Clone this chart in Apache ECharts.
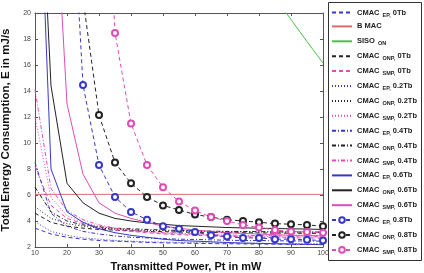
<!DOCTYPE html>
<html>
<head>
<meta charset="utf-8">
<script src="https://cdn.jsdelivr.net/npm/echarts@6/dist/echarts.min.js"></script>
<style>
html, body { margin: 0; padding: 0; background: #fff; }
#main { width: 424px; height: 273px; }
</style>
</head>
<body>
<div id="main"></div>
<script>
var chartDom = document.getElementById('main');
var myChart = echarts.init(chartDom);

// transmitted power, mW
var xData = [10, 15, 20, 25, 30, 35, 40, 45, 50, 55, 60, 65, 70, 75, 80, 85, 90, 95, 100];
var xTicks = [10, 20, 30, 40, 50, 60, 70, 80, 90, 100];
var yTicks = [2, 4, 6, 8, 10, 12, 14, 16, 18, 20];

// energy consumption, mJ/s (values above 20 run off the top)
var ep0    = [3.45, 3.0, 2.75, 2.6, 2.5, 2.45, 2.4, 2.35, 2.32, 2.3, 2.28, 2.26, 2.25, 2.24, 2.23, 2.22, 2.21, 2.2, 2.2];
var bmac   = [6.05, 6.05, 6.05, 6.05, 6.05, 6.05, 6.05, 6.05, 6.05, 6.05, 6.05, 6.05, 6.05, 6.05, 6.05, 6.05, 6.05, 6.05, 6.05];
var siso   = [null, null, null, null, null, null, null, null, null, null, null, null, null, null, null, 21.2, 19.5, 17.8, 16.15];
var onp0   = [4.6, 3.9, 3.6, 3.45, 3.35, 3.3, 3.25, 3.2, 3.18, 3.15, 3.13, 3.12, 3.1, 3.1, 3.08, 3.07, 3.06, 3.05, 3.05];
var smp0   = [8.2, 5.2, 4.2, 3.8, 3.5, 3.3, 3.2, 3.1, 3.0, 2.95, 2.9, 2.85, 2.8, 2.8, 2.75, 2.72, 2.7, 2.7, 2.68];
var ep02   = [3.95, 3.2, 2.9, 2.7, 2.6, 2.5, 2.45, 2.4, 2.38, 2.35, 2.33, 2.32, 2.3, 2.3, 2.28, 2.27, 2.26, 2.25, 2.25];
var onp02  = [5.1, 4.2, 3.8, 3.6, 3.45, 3.38, 3.32, 3.28, 3.25, 3.22, 3.2, 3.2, 3.18, 3.17, 3.16, 3.15, 3.15, 3.14, 3.14];
var smp02  = [12.0, 5.8, 4.4, 3.9, 3.6, 3.4, 3.25, 3.15, 3.05, 3.0, 2.95, 2.9, 2.88, 2.85, 2.82, 2.8, 2.78, 2.77, 2.75];
var ep04   = [8.5, 4.6, 3.6, 3.2, 3.0, 2.85, 2.75, 2.7, 2.65, 2.6, 2.58, 2.55, 2.52, 2.5, 2.5, 2.48, 2.47, 2.46, 2.45];
var onp04  = [6.6, 4.7, 4.0, 3.7, 3.55, 3.45, 3.4, 3.35, 3.3, 3.28, 3.25, 3.22, 3.2, 3.2, 3.18, 3.17, 3.16, 3.15, 3.15];
var smp04  = [14.1, 6.5, 4.8, 4.1, 3.7, 3.45, 3.3, 3.2, 3.1, 3.05, 3.0, 2.95, 2.92, 2.9, 2.88, 2.86, 2.85, 2.83, 2.82];
var ep06   = [40, 8.0, 4.7, 3.9, 3.4, 3.1, 2.9, 2.75, 2.6, 2.5, 2.45, 2.4, 2.35, 2.3, 2.28, 2.25, 2.22, 2.2, 2.18];
var onp06  = [40, 14.4, 6.9, 5.4, 4.6, 4.2, 4.0, 3.85, 3.75, 3.65, 3.6, 3.55, 3.5, 3.47, 3.45, 3.42, 3.4, 3.38, 3.35];
var smp06  = [90, 34.9, 13.0, 7.6, 5.4, 4.6, 4.2, 3.9, 3.6, 3.45, 3.3, 3.2, 3.1, 3.05, 3.0, 2.95, 2.9, 2.9, 2.85];
var ep08   = [200, 80, 36.6, 14.46, 8.3, 5.85, 4.7, 4.1, 3.6, 3.4, 3.15, 2.9, 2.8, 2.7, 2.7, 2.6, 2.6, 2.55, 2.5];
var onp08  = [250, 100, 45, 21.07, 12.15, 8.5, 6.9, 5.85, 5.2, 4.85, 4.5, 4.3, 4.1, 4.0, 3.9, 3.8, 3.75, 3.7, 3.6];
var smp08  = [800, 400, 200, 100, 44, 18.46, 11.5, 8.3, 6.6, 5.5, 4.8, 4.3, 4.0, 3.7, 3.5, 3.3, 3.2, 3.15, 3.1];

var BLUE = '#3838c8';
var BLACK = '#222222';
var PINK = '#e04cb4';
var DASH = [4, 3];
var DOT = [1, 2];
var DASHDOT = [4, 2, 1, 2];

function pairs(arr) {
    return xData.map(function (x, i) { return [x, arr[i]]; });
}

function curve(name, arr, color, type, marker) {
    return {
        name: name,
        type: 'line',
        data: pairs(arr),
        clip: true,
        silent: true,
        animation: false,
        symbol: marker ? 'emptyCircle' : 'none',
        symbolSize: 6,
        showSymbol: !!marker,
        lineStyle: { color: color, width: 1, type: type },
        itemStyle: { color: color, borderColor: color, borderWidth: 1 }
    };
}

var series = [
    curve('CMAC_EP, 0Tb', ep0, BLUE, DASH),
    curve('B MAC', bmac, '#e06a6a', 'solid'),
    curve('SISO_ON', siso, '#4cc04c', 'solid'),
    curve('CMAC_ONP, 0Tb', onp0, BLACK, DASH),
    curve('CMAC_SMP, 0Tb', smp0, PINK, DASH),
    curve('CMAC_EP, 0.2Tb', ep02, BLUE, DOT),
    curve('CMAC_ONP, 0.2Tb', onp02, BLACK, DOT),
    curve('CMAC_SMP, 0.2Tb', smp02, PINK, DOT),
    curve('CMAC_EP, 0.4Tb', ep04, BLUE, DASHDOT),
    curve('CMAC_ONP, 0.4Tb', onp04, BLACK, DASHDOT),
    curve('CMAC_SMP, 0.4Tb', smp04, PINK, DASHDOT),
    curve('CMAC_EP, 0.6Tb', ep06, BLUE, 'solid'),
    curve('CMAC_ONP, 0.6Tb', onp06, BLACK, 'solid'),
    curve('CMAC_SMP, 0.6Tb', smp06, PINK, 'solid'),
    curve('CMAC_EP, 0.8Tb', ep08, BLUE, DASH, true),
    curve('CMAC_ONP, 0.8Tb', onp08, BLACK, DASH, true),
    curve('CMAC_SMP, 0.8Tb', smp08, PINK, DASH, true)
];

// legend entries: hide the default symbol on plain lines
var legendData = series.map(function (s) {
    if (s.symbol === 'none') return { name: s.name, itemStyle: { opacity: 0 } };
    return { name: s.name };
});

var tickLabel = { color: '#444', fontSize: 7, fontFamily: 'Liberation Sans' };
var boxLine = { show: true, lineStyle: { color: '#555', width: 1 } };
var inTick = { show: true, inside: true, length: 3, lineStyle: { color: '#555' } };

let option = {
    backgroundColor: '#fff',
    animation: false,
    grid: { left: 35, right: 101, top: 13, bottom: 26, outerBoundsMode: 'none', containLabel: false },
    xAxis: [
        {
            type: 'value', min: 10, max: 100, interval: 10,
            axisLine: boxLine,
            axisTick: inTick,
            axisLabel: Object.assign({ margin: 3 }, tickLabel),
            splitLine: { show: false },
            name: 'Transmitted Power, Pt in mW',
            nameLocation: 'middle',
            nameGap: 13,
            nameTextStyle: { fontSize: 11, fontWeight: 'bold', color: '#111', fontFamily: 'Liberation Sans', padding: [0, 0, 0, 14] }
        },
        {
            type: 'value', min: 10, max: 100, interval: 10, position: 'top',
            axisLine: boxLine,
            axisTick: inTick,
            axisLabel: { show: false },
            splitLine: { show: false }
        }
    ],
    yAxis: [
        {
            type: 'value', min: 2, max: 20, interval: 2,
            axisLine: boxLine,
            axisTick: inTick,
            axisLabel: Object.assign({ margin: 4 }, tickLabel),
            splitLine: { show: false },
            name: 'Total Energy Consumption, E in mJ/s',
            nameLocation: 'middle',
            nameGap: 15,
            nameTextStyle: { fontSize: 11.5, fontWeight: 'bold', color: '#111', fontFamily: 'Liberation Sans' }
        },
        {
            type: 'value', min: 2, max: 20, interval: 2, position: 'right',
            axisLine: boxLine,
            axisTick: inTick,
            axisLabel: { show: false },
            splitLine: { show: false }
        }
    ],
    graphic: [
        {
            type: 'rect', left: 328, top: 2, z: 0,
            shape: { width: 93, height: 258 },
            style: { fill: '#fff', stroke: '#333', lineWidth: 1 }
        }
    ],
    legend: {
        orient: 'vertical',
        left: 331,
        top: 6,
        padding: 0,
        itemWidth: 20,
        itemHeight: 7,
        itemGap: 2.9,
        selectedMode: false,
        data: legendData,
        textStyle: {
            fontSize: 7.5, fontWeight: 'bold', color: '#222', fontFamily: 'Liberation Sans',
            lineHeight: 11,
            rich: {
                s: {
                    fontSize: 5.5, fontWeight: 'bold', color: '#222', fontFamily: 'Liberation Sans',
                    lineHeight: 5, verticalAlign: 'bottom', padding: [6, 0, 0, 1]
                }
            }
        },
        formatter: function (name) {
            if (name.indexOf('_') < 0) return name;
            var base = name.split('_')[0];
            var rest = name.split('_')[1];
            var sp = rest.indexOf(' ');
            if (sp < 0) return base + ' {s|' + rest + '}';
            return base + ' {s|' + rest.slice(0, sp) + '}' + rest.slice(sp);
        }
    },
    series: series
};

option && myChart.setOption(option);
</script>
</body>
</html>
